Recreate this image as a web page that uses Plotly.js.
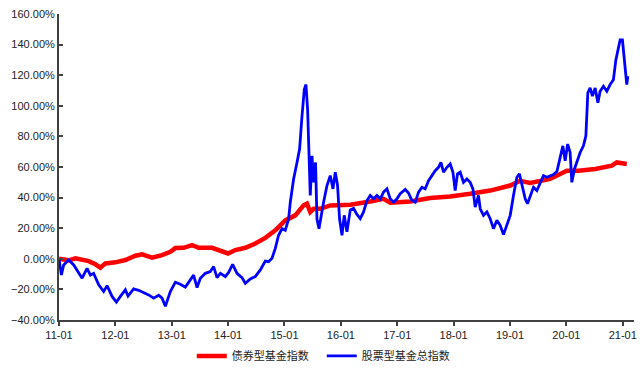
<!DOCTYPE html>
<html>
<head>
<meta charset="utf-8">
<script src="https://cdn.plot.ly/plotly-3.0.1.min.js"></script>
<style>html,body{margin:0;padding:0;background:#fff;}#chart{width:640px;height:376px;}</style>
</head>
<body>
<div id="chart"></div>
<script>
// x values: decimal years (2011.0 = 2011-01)
const bondYears = [2011.0,2011.172,2011.291,2011.527,2011.645,2011.734,2011.823,2012.0,2012.177,2012.355,2012.473,2012.651,2012.828,2012.975,2013.064,2013.211,2013.360,2013.477,2013.715,2013.892,2013.998,2014.128,2014.305,2014.482,2014.660,2014.837,2015.014,2015.191,2015.339,2015.399,2015.457,2015.516,2015.635,2015.812,2015.989,2016.167,2016.521,2016.757,2016.876,2017.230,2017.585,2017.940,2018.294,2018.649,2019.004,2019.181,2019.358,2019.713,2020.009,2020.215,2020.511,2020.807,2020.895,2021.072];
const bondValues = [0,-1,0.3,-1.5,-3.6,-5.8,-3,-2.3,-0.8,2,2.9,0.7,2.4,4.6,7,7.2,8.9,7.2,7.2,5,3.5,5.7,7.2,10,13.7,18.6,25.1,28.4,34.9,36,30.6,32.7,32.7,34.9,34.9,35.3,37.5,39.2,36.6,37.5,39.7,40.7,42.5,44.6,47.9,51,49.6,52.2,57.6,57.6,58.7,60.9,63,62];

const stockYears = [2011.0,2011.043,2011.083,2011.172,2011.261,2011.321,2011.410,2011.498,2011.557,2011.615,2011.704,2011.793,2011.853,2011.941,2012.018,2012.089,2012.177,2012.225,2012.324,2012.413,2012.502,2012.590,2012.679,2012.768,2012.828,2012.887,2012.975,2013.064,2013.152,2013.241,2013.330,2013.388,2013.449,2013.507,2013.596,2013.684,2013.743,2013.803,2013.862,2013.950,2014.009,2014.080,2014.158,2014.246,2014.305,2014.394,2014.482,2014.571,2014.660,2014.718,2014.778,2014.837,2014.895,2014.956,2015.014,2015.073,2015.103,2015.161,2015.222,2015.268,2015.310,2015.351,2015.381,2015.410,2015.434,2015.457,2015.488,2015.516,2015.551,2015.576,2015.612,2015.647,2015.693,2015.754,2015.812,2015.860,2015.901,2015.941,2015.977,2016.020,2016.060,2016.108,2016.167,2016.225,2016.285,2016.344,2016.402,2016.463,2016.521,2016.580,2016.640,2016.699,2016.757,2016.817,2016.876,2016.934,2016.995,2017.053,2017.142,2017.200,2017.261,2017.319,2017.378,2017.438,2017.496,2017.555,2017.615,2017.674,2017.732,2017.775,2017.821,2017.881,2017.940,2017.988,2018.028,2018.069,2018.117,2018.176,2018.236,2018.294,2018.342,2018.383,2018.441,2018.472,2018.530,2018.590,2018.649,2018.707,2018.768,2018.826,2018.885,2018.945,2019.004,2019.062,2019.122,2019.168,2019.211,2019.270,2019.310,2019.358,2019.417,2019.477,2019.535,2019.594,2019.654,2019.713,2019.770,2019.832,2019.890,2019.938,2019.979,2020.023,2020.067,2020.097,2020.144,2020.186,2020.245,2020.303,2020.346,2020.381,2020.422,2020.463,2020.511,2020.559,2020.599,2020.658,2020.718,2020.777,2020.835,2020.878,2020.913,2020.954,2020.995,2021.030,2021.055,2021.072,2021.090];
const stockValues = [0,-10.6,-4,-0.8,-4,-7.3,-12.7,-6.2,-10.6,-9.5,-17,-21.4,-17.5,-24.6,-28.3,-24.6,-20.3,-24.4,-19.7,-20.6,-22,-23.6,-25.7,-23.8,-25.7,-31,-21.4,-15.3,-16.6,-18.5,-13.8,-10.6,-18.8,-12.7,-9.5,-8.4,-5.1,-12.3,-9.5,-11.6,-8.9,-3.6,-9.5,-12.3,-16,-13.2,-11.6,-7.3,-1.5,-1.9,0.3,6.8,15.4,19.7,18.6,26,37,52,63,71.7,93,110.6,113.9,97.7,69.5,41.4,67.3,50,63,26,19.7,28.4,37,47.9,54.4,45.7,56.6,47.9,26,15.4,28.4,17.6,32,33,29,26.2,30.6,38.1,41.4,39.2,41.4,39.2,43.6,45.7,39.2,37,39.2,42.5,45.3,43,38.1,37,43.6,46.8,45.7,51.1,54.4,57.6,59.8,63,56.6,59.8,62,56.6,44.6,55.5,56.6,50,52.2,50,45.7,33.8,41.4,32.7,28.4,30.6,26.2,19.7,25.1,21.9,15.8,21.9,28.4,41.4,53.3,55.5,47.9,39.2,36,41.4,46.8,44.6,50,54.4,53.3,54.4,55,57,67.3,73.8,64,75,69.5,50,58.7,63,69.5,73.8,80.3,108.5,111.7,106.3,111.7,102,109.5,112.8,109.5,113.9,117,130,136.6,143,143,128,121.5,113.9,119.3];

const tickYears = [2011,2012,2013,2014,2015,2016,2017,2018,2019,2020,2021];
const tickLabels = ["11-01","12-01","13-01","14-01","15-01","16-01","17-01","18-01","19-01","20-01","21-01"];
const seriesNames = ["债券型基金指数","股票型基金总指数"];

const traces = [
  {x: bondYears, y: bondValues, name: seriesNames[0], type: 'scatter', mode: 'lines',
   line: {color: '#ff0000', width: 4.5}},
  {x: stockYears, y: stockValues, name: seriesNames[1], type: 'scatter', mode: 'lines',
   line: {color: '#0000ff', width: 2.8}}
];

const layout = {
  width: 640, height: 376,
  margin: {l: 59, r: 6, t: 14, b: 54},
  paper_bgcolor: '#fff', plot_bgcolor: '#fff',
  font: {family: '"Liberation Sans", Arial, "Noto Sans CJK SC", sans-serif', size: 11, color: '#222'},
  showlegend: true,
  legend: {orientation: 'h', x: 0.457, xanchor: 'center', y: -0.07, yanchor: 'top',
           entrywidth: 85, itemwidth: 30,
           font: {family: '"Noto Sans CJK SC", sans-serif', size: 11, color: '#222'}},
  xaxis: {
    range: [2011, 2021.2], tickmode: 'array', tickvals: tickYears, ticktext: tickLabels,
    showgrid: false, zeroline: false, showline: true, linecolor: '#404040', linewidth: 2,
    ticks: 'outside', ticklen: 4, tickwidth: 2, tickcolor: '#404040',
    tickfont: {size: 11, color: '#222'}
  },
  yaxis: {
    range: [-40, 160], dtick: 20, tick0: -40, tickformat: '.2f', ticksuffix: '%',
    showgrid: false, zeroline: false, showline: true, linecolor: '#404040', linewidth: 2,
    ticks: 'inside', ticklen: 4, tickwidth: 2, tickcolor: '#404040',
    tickfont: {size: 11, color: '#222'}
  }
};

Plotly.newPlot('chart', traces, layout, {displayModeBar: false, staticPlot: true});
</script>
</body>
</html>
